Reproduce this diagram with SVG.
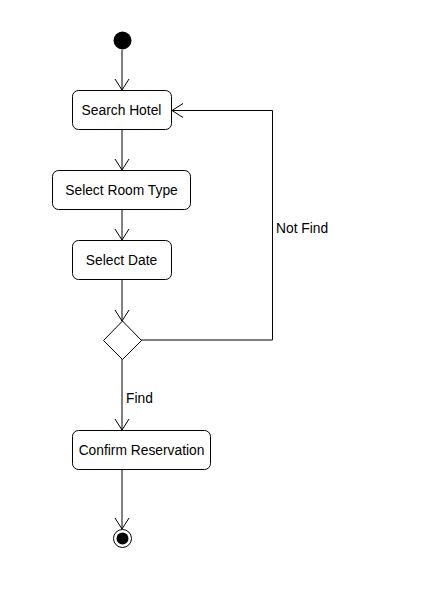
<svg xmlns="http://www.w3.org/2000/svg" width="437" height="598" viewBox="0 0 437 598">
<style>
.node rect, .node polygon { fill: #ffffff; stroke: #000000; stroke-width: 1; }
.lbl { font-family: "Liberation Sans", Arial, sans-serif; font-size: 13.8px; fill: #000000; }
.edge { fill: none; stroke: #000000; stroke-width: 1; }
</style>
<defs>
<marker id="open" markerUnits="userSpaceOnUse" viewBox="0 0 12 16" markerWidth="12" markerHeight="16" refX="11" refY="8" orient="auto">
<path d="M0,1 L11,8 L0,15" fill="none" stroke="#000000" stroke-width="1"/>
</marker>
</defs>
<rect width="437" height="598" fill="#ffffff"/>
<g id="connectors">
<line class="edge" x1="122" y1="50" x2="122" y2="90" marker-end="url(#open)"/>
<line class="edge" x1="122" y1="130" x2="122" y2="170" marker-end="url(#open)"/>
<line class="edge" x1="122" y1="210" x2="122" y2="240" marker-end="url(#open)"/>
<line class="edge" x1="122" y1="280" x2="122" y2="321" marker-end="url(#open)"/>
<line class="edge" x1="122" y1="359" x2="122" y2="430" marker-end="url(#open)"/>
<polyline class="edge" points="141,340 272.5,340 272.5,110.5 172,110.5" marker-end="url(#open)"/>
<line class="edge" x1="122" y1="470" x2="122" y2="529" marker-end="url(#open)"/>
<text class="lbl" x="276" y="233">Not Find</text>
<text class="lbl" x="126" y="403">Find</text>
</g>
<g id="start"><circle cx="122.5" cy="40.5" r="9" fill="#000000"/></g>
<g id="search-hotel" class="node"><rect x="72.5" y="90.5" width="99" height="39" rx="6"/><text class="lbl" x="121.5" y="115" text-anchor="middle">Search Hotel</text></g>
<g id="select-room-type" class="node"><rect x="52.5" y="170.5" width="138" height="39" rx="6"/><text class="lbl" x="121.5" y="195" text-anchor="middle">Select Room Type</text></g>
<g id="select-date" class="node"><rect x="72.5" y="240.5" width="99" height="39" rx="6"/><text class="lbl" x="121.5" y="265" text-anchor="middle">Select Date</text></g>
<g id="decision" class="node"><polygon points="122.5,321 141.5,340.5 122.5,359.5 103.5,340.5"/></g>
<g id="confirm-reservation" class="node"><rect x="72.5" y="430.5" width="138" height="39" rx="6"/><text class="lbl" x="141.5" y="455" text-anchor="middle">Confirm Reservation</text></g>
<g id="end"><circle cx="122.5" cy="538.5" r="9" fill="#ffffff" stroke="#000000" stroke-width="1"/><circle cx="122.5" cy="538.5" r="6" fill="#000000"/></g>
</svg>
